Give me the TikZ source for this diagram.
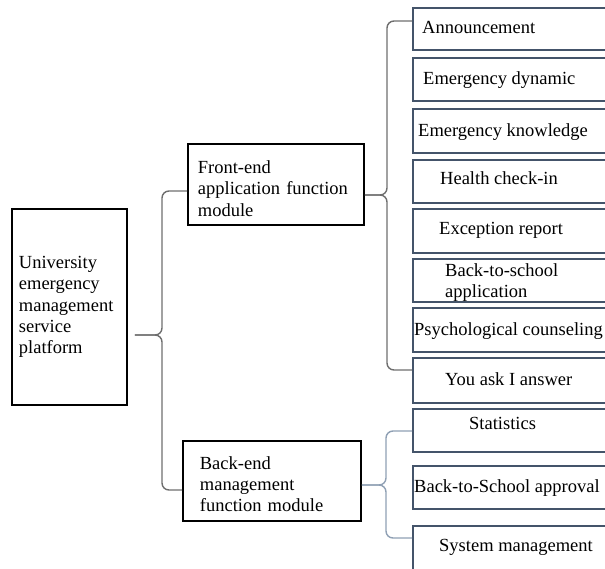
\documentclass[tikz,border=0pt]{standalone}
\usepackage{fontspec}
\setmainfont{Liberation Serif}
\usepackage{xcolor}
\usetikzlibrary{positioning}

\definecolor{slate}{HTML}{44546A}
\definecolor{bracegray}{HTML}{6E6E6E}
\definecolor{bracelight}{HTML}{8FA0B4}

\tikzset{
  mainbox/.style={draw=black, line width=1.8pt, anchor=north west, align=left,
    font=\fontsize{18.5}{21.3}\selectfont, inner sep=0pt},
  itembox/.style={draw=slate, line width=1.8pt, anchor=north west,
    minimum width=210pt, inner sep=0pt},
  itemtext/.style={anchor=west, inner sep=0pt, align=left, yshift=-3pt,
    font=\fontsize{18.5}{21.5}\selectfont, text height=0.7em, text depth=0.22em},
  bracket/.style={draw=bracegray, line width=1.4pt, rounded corners=7pt},
}

\begin{document}
\begin{tikzpicture}[x=1pt, y=-1pt]
    \useasboundingbox (0,0) rectangle (605,568);
    \clip (0,0) rectangle (605,568);
    % Main modules
    \node[mainbox, minimum width=115pt, minimum height=196pt, text width=101pt, inner xsep=7pt]
      (platform) at (11,208) {University\\emergency\\management\\service\\platform};
    \node[mainbox, minimum width=176pt, minimum height=81pt, text width=156pt, inner xsep=10pt]
      (front) at (187,143) {\\[0pt]Front-end\\application function\\module};
    \node[mainbox, minimum width=178pt, minimum height=80pt, text width=144pt, inner xsep=17pt]
      (back) at (182,440) {\\[-2pt]Back-end\\management\\function module};
    % Front-end functions
    \node[itembox, minimum height=42pt] (announce) at (412,7) {};
    \node[itembox, minimum height=43pt] (dynamic) at (412,57) {};
    \node[itembox, minimum height=44pt] (knowledge) at (412,108) {};
    \node[itembox, minimum height=43pt] (health) at (412,159) {};
    \node[itembox, minimum height=44pt] (exception) at (412,208) {};
    \node[itembox, minimum height=43pt] (apply) at (412,258) {};
    \node[itembox, minimum height=44pt] (psych) at (412,307) {};
    \node[itembox, minimum height=45pt] (askme) at (412,357) {};
    % Back-end functions
    \node[itembox, minimum height=43pt] (stats) at (412,408) {};
    \node[itembox, minimum height=43pt] (approve) at (412,465) {};
    \node[itembox, minimum height=44pt] (sysmgmt) at (412,525) {};
    % Labels
    \node[itemtext] at ([xshift=10pt,yshift=1pt]announce.west) {Announcement};
    \node[itemtext] at ([xshift=11pt]dynamic.west) {Emergency dynamic};
    \node[itemtext] at ([xshift=6pt]knowledge.west) {Emergency knowledge};
    \node[itemtext] at ([xshift=28pt,yshift=2pt]health.west) {Health check-in};
    \node[itemtext] at ([xshift=27pt,yshift=2pt]exception.west) {Exception report};
    \node[itemtext] at ([xshift=33pt,yshift=-12pt]apply.west) {Back-to-school\\[-0.5pt]application};
    \node[itemtext] at ([xshift=2pt]psych.west) {Psychological counseling};
    \node[itemtext] at ([xshift=33pt]askme.west) {You ask I answer};
    \node[itemtext] at ([xshift=57pt,yshift=6pt]stats.west) {Statistics};
    \node[itemtext] at ([xshift=2pt]approve.west) {Back-to-School approval};
    \node[itemtext] at ([xshift=27pt,yshift=2pt]sysmgmt.west) {System management};
    % Brackets
    \coordinate (tipA) at (platform.east |- 0,335);
    \draw[bracket] (front.west |- 0,191) -- (162,191) -- (162,335) -- ([xshift=7pt]tipA);
    \draw[bracket] (back.west |- 0,490) -- (162,490) -- (162,335) -- ([xshift=7pt]tipA);
    \coordinate (tipB) at (front.east |- 0,195);
    \draw[bracket] (announce.west |- 0,21) -- (387,21) -- (387,195) -- (tipB);
    \draw[bracket] (askme.west |- 0,370) -- (387,370) -- (387,195) -- (tipB);
    \coordinate (tipC) at (back.east |- 0,485);
    \draw[bracket, draw=bracelight] (stats.west |- 0,431) -- (386,431) -- (386,485) -- (tipC);
    \draw[bracket, draw=bracelight] (sysmgmt.west |- 0,538) -- (386,538) -- (386,485) -- (tipC);
\end{tikzpicture}
\end{document}
